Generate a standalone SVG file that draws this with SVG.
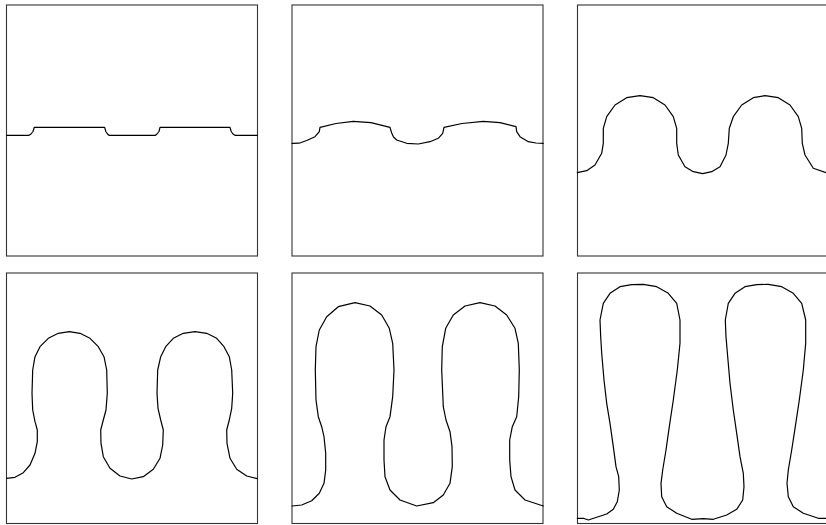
<svg xmlns="http://www.w3.org/2000/svg" width="826" height="525" viewBox="0 0 826 525">
<style>
.frame{fill:#fff;stroke:#333;stroke-width:1.1}
.curve{fill:none;stroke:#000;stroke-width:1.2;stroke-linejoin:round;stroke-linecap:round}
</style>
<rect width="826" height="525" fill="#fff"/>
<g id="panel1">
<rect class="frame" x="6.5" y="5" width="251" height="251"/>
<polyline class="curve" points="6.5,135.3 29,135.3 31,134 33,131.5 34.3,127.3 104.7,127.3 105.8,131.5 107.5,134 109,135.3 155.5,135.3 157,134 159,131.5 160,127.3 230,127.3 231.2,131.5 233,134 235,135.3 257.5,135.3"/>
</g>
<g id="panel2">
<rect class="frame" x="292" y="5" width="251" height="251"/>
<polyline class="curve" points="292,143.3 299,143.2 306.7,140.5 315,136.7 319.3,131.7 320,127.3 336,123.5 353.3,121.3 371,122.7 390,127.3 391.7,133 393.5,137 396.7,140 406.7,143.3 418.3,144 430,141.7 438.3,138.3 442.7,133.3 444,127.3 462,123.5 483.3,121.3 500,122.7 516,126.7 516.7,131.7 520,136.7 528.3,141.7 536,143 543.3,143.3"/>
</g>
<g id="panel3">
<rect class="frame" x="577.5" y="5" width="251" height="251"/>
<polyline class="curve" points="577.3,172.7 586.7,170.7 595,165 601.7,153.3 603.3,143.3 603.3,128.3 606.7,116.7 615,105 626.7,97.7 640,95.7 653.3,97.7 665,105 673.3,116.7 676.7,128.3 676.7,143.3 678.3,155 685,166.7 693.3,171.7 702.7,173.7 711.7,171.7 720,166.7 726,155 728.3,143.3 729.3,128.3 733.3,116.7 741.7,105 753.3,97.7 765,95.7 778.3,97.7 790,105 798.3,116.7 801.7,128.3 802.3,143.3 805,155 813.3,168.3 826,172.7"/>
</g>
<g id="panel4">
<rect class="frame" x="6.5" y="273" width="251" height="250.5"/>
<polyline class="curve" points="6.7,478.3 15,477.3 23.3,472.7 30,465 35,453.3 37.3,441.7 37.3,430 35,421.7 32.7,410 32,393.3 32.7,370 35,356.7 40,346.7 48.3,338.3 58.3,333.3 69.3,331.7 80,333.3 90,338.3 98.3,346.7 104,356.7 106.7,370 107.3,393.3 106,410 103.3,420 100.7,430 101,443.3 103.3,456.7 110,468.3 120,476 131.7,479 143.3,476.7 153.3,469.3 160,458.3 162.7,445 163.3,430 160.7,420 158,408.3 157,393.3 157.7,370 160.7,356.7 165.7,346.7 173.3,338.3 183.3,333.3 195,331.7 206.7,333.3 216.7,338.3 224,346.7 229.3,356.7 231.7,370 232.7,393.3 231.7,408.3 229.3,420 226.7,430 227,443.3 230,458.3 236.7,469.3 246.7,476 257.3,478.7"/>
</g>
<g id="panel5">
<rect class="frame" x="292" y="273" width="251" height="250.5"/>
<polyline class="curve" points="292,506 301.7,505 311.7,500.7 319.3,493.3 324,483.3 325.7,470 325.7,453.3 324,436.7 321.7,426.7 318.3,416.7 316,400 315.3,370 316,346.7 319.3,330 326.7,316.7 338.3,306.7 355,302.7 370,306 381.7,315 389.3,328.3 392.7,343.3 394,370 392.7,396.7 390,416.7 386,426.7 384,440 384,460 385,476.7 390,490 400,500 416.7,506 433.3,502.7 443.3,495 450,483.3 452.3,466.7 452,446.7 450,431.7 446,420 443.3,406.7 441.7,370 442.3,346.7 445.7,328.3 453.3,315 465,306 480,302.7 495,306 506.7,315 515,328.3 518.3,343.3 519.3,370 518.7,396.7 516.7,416.7 512.3,426.7 509.7,440 509.7,460 511,476.7 515,490 525,500 543.3,506"/>
</g>
<g id="panel6">
<rect class="frame" x="577.5" y="273" width="251" height="250.5"/>
<polyline class="curve" points="577.3,518.3 583.3,518.3 588.3,520 596.7,517.3 606.7,514 613.3,509.3 617.3,501.7 619.3,490 618.7,476.7 616,466.7 613.3,446.7 610,423.3 606.7,403.3 604,380 601.7,353.3 600.7,336.7 600,320 603.3,303.3 610,293.3 620,286.7 631.7,284.7 643.3,284.3 656.7,286.7 668.3,293.3 676.7,303.3 680,320 680,343.3 677.3,370 673.3,400 669.3,426.7 666,450 662.7,470 661,483.3 661.7,496.7 666.7,506.7 676.7,513.3 691.7,519.3 703.3,518.7 713.3,519.3 726.7,515 736.7,509.3 742.7,500 744,486.7 743.3,473.3 740,456.7 736.7,433.3 733.3,410 730,383.3 727.7,356.7 726,336.7 725.3,320 728.3,303.3 735,293.3 745,286.7 756.7,284.7 768.3,284.3 781.7,286.7 793.3,293.3 801.7,303.3 805.7,320 805.7,343.3 803.3,370 799.3,400 795.3,426.7 791.7,450 788.3,470 787,483.3 788.3,496.7 793.3,506.7 803.3,513.3 818.3,518.3 826.7,518.3"/>
</g>
</svg>
